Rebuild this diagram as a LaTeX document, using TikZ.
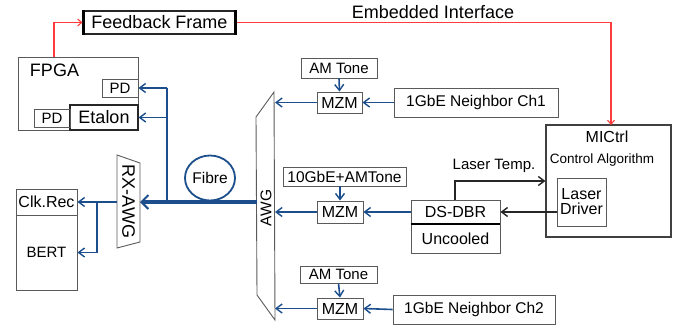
\documentclass[tikz,border=0pt]{standalone}
\usepackage{fontspec}
\setmainfont{Liberation Sans}
\usetikzlibrary{arrows.meta,calc,shapes.geometric}
\definecolor{fibreblue}{RGB}{28,78,140}
\definecolor{ctrlred}{RGB}{255,60,60}
\definecolor{boxgrey}{RGB}{90,90,90}
\newcommand{\fs}[1]{\fontsize{#1}{#1}\selectfont}
\tikzset{
  box/.style={draw=boxgrey, line width=0.9pt, inner sep=0pt, align=center, font=\fs{15}},
  darkbox/.style={box, draw=black!85, line width=1.1pt},
  bluearrow/.style={draw=fibreblue, line width=1.6pt, -{Straight Barb[length=6pt,width=9pt,line width=1.4pt]}},
  blueline/.style={draw=fibreblue, line width=1.6pt},
  blackarrow/.style={draw=black!85, line width=1.4pt, -{Straight Barb[length=6pt,width=9pt,line width=1.4pt]}},
  redarrow/.style={draw=ctrlred, line width=1.1pt, -{Straight Barb[length=4pt,width=7pt,line width=1.1pt]}},
  lbl/.style={inner sep=0pt, font=\fs{15}},
}
\begin{document}
\begin{tikzpicture}[x=1pt,y=-1pt]
\useasboundingbox (0,0) rectangle (682,330);

% ---- feedback frame and FPGA ----
\node[darkbox, minimum width=153pt, minimum height=23pt, font=\fs{18}] (ff) at (159.5,22.5) {Feedback Frame};
\draw[line width=2.6pt, black] ([xshift=1pt]ff.north west) -- ([xshift=1pt]ff.south west);
\draw[line width=2.6pt, black] ([xshift=-1pt]ff.north east) -- ([xshift=-1pt]ff.south east);
\node[lbl, font=\fs{18}] (eilbl) at (433,12.5) {Embedded Interface};

\node[box, minimum width=120pt, minimum height=73pt] (fpga) at (78,93.5) {};
\node[lbl, font=\fs{18}] (fpgalbl) at (54.5,70) {FPGA};
\node[box, minimum width=36pt, minimum height=18pt] (pd1) at (120,88) {PD};
\node[darkbox, minimum width=68pt, minimum height=25pt, font=\fs{18}] (etalon) at (104,117.5) {Etalon};
\node[box, minimum width=36pt, minimum height=18pt] (pd2) at (52,118) {PD};

% ---- receiver side ----
\node[draw=fibreblue, line width=1.8pt, ellipse, minimum width=50pt, minimum height=45pt, inner sep=0pt, font=\fs{15.5}] (fibre) at (210,178) {Fibre};

\draw[boxgrey, line width=0.9pt] (117,155) -- (140,163) -- (140,242) -- (117,248) -- cycle;
\node[lbl, rotate=-90, font=\fs{18}] (rxawg) at (128.5,201.5) {RX-AWG};
\coordinate (rxin) at (140,202);
\coordinate (rxout) at (117,202);

\node[box, minimum width=61pt, minimum height=26pt, font=\fs{16}] (clk) at (46.5,202) {Clk.Rec};
\node[box, minimum width=61pt, minimum height=75pt] (bert) at (46.5,252.5) {BERT};

% ---- transmitter AWG ----
\draw[boxgrey, line width=0.9pt] (256,117) -- (274,92) -- (275,320) -- (257,295) -- cycle;
\node[lbl, rotate=90, font=\fs{15.5}] (awg) at (266,208) {AWG};
\coordinate (awgout) at (257,202);
\coordinate (awg1) at (275,102.5);
\coordinate (awg2) at (275,212);
\coordinate (awg3) at (275,308.5);

% channel 1
\node[box, minimum width=76pt, minimum height=20pt] (amt1) at (339,68) {AM Tone};
\node[box, minimum width=45pt, minimum height=21pt, font=\fs{16}] (mzm1) at (339.5,102.5) {MZM};
\node[box, minimum width=164pt, minimum height=29pt, font=\fs{15.5}] (ch1) at (476,102.5) {1GbE Neighbor Ch1};

% channel 2
\node[box, minimum width=123pt, minimum height=19pt, font=\fs{15.5}] (amt2) at (344.5,176.5) {10GbE+AMTone};
\node[box, minimum width=46pt, minimum height=22pt, font=\fs{16}] (mzm2) at (340,212) {MZM};
\node[box, minimum width=89pt, minimum height=24pt, font=\fs{16}] (dsdbr) at (455.5,212) {DS-DBR};
\node[box, minimum width=89pt, minimum height=29pt, font=\fs{16}] (uncooled) at (455.5,238.5) {Uncooled};
\draw[black, line width=2pt] (dsdbr.south west) -- (dsdbr.south east);

% channel 3
\node[box, minimum width=77pt, minimum height=17pt] (amt3) at (338.5,274.5) {AM Tone};
\node[box, minimum width=46pt, minimum height=21pt, font=\fs{16}] (mzm3) at (340,308.5) {MZM};
\node[box, minimum width=162pt, minimum height=29pt, font=\fs{15.5}] (ch2) at (474,309.5) {1GbE Neighbor Ch2};

% ---- controller ----
\node[darkbox, draw=black!75, minimum width=125pt, minimum height=112pt] (mictrl) at (608.5,181) {};
\node[lbl, font=\fs{16}] (mictrllbl) at (607,137) {MICtrl};
\node[lbl, font=\fs{13.5}] (algolbl) at (602,160) {Control Algorithm};
\node[box, minimum width=49pt, minimum height=48pt, font=\fs{16}, text width=45pt, align=center] (ld) at (581.5,202) {Laser\\[-1pt]Driver};
\coordinate (mictop) at (611,125);
\coordinate (dstop) at (455,200);
\node[lbl] (templbl) at (494,166) {Laser Temp.};

% ---- red control links ----
\coordinate (fpgatop) at (54,57);
\draw[redarrow] (fpgatop) |- (ff.west);
\draw[redarrow] (ff.east) -| (mictop);

% ---- optical paths ----
\draw[draw=fibreblue, line width=3.6pt, -{Straight Barb[length=7pt,width=14pt,line width=2pt]}] (awgout) -- (rxin);
\coordinate (junc) at (167,202);
\draw[blueline] (junc) -- (167,88);
\draw[bluearrow] (167,88) -- (pd1.east);
\draw[bluearrow] (167,117.5) -- (etalon.east);

\coordinate (rxsplit) at (97,202);
\draw[bluearrow] (rxout) -- (clk.east);
\draw[bluearrow] (rxsplit) |- (bert.east);

\draw[bluearrow] (amt1.south) -- (mzm1.north);
\draw[bluearrow] (ch1.west) -- (mzm1.east);
\draw[bluearrow] (mzm1.west) -- (awg1);

\draw[bluearrow] (amt2.south -| mzm2.north) -- (mzm2.north);
\draw[bluearrow] (dsdbr.west) -- (mzm2.east);
\draw[bluearrow] (mzm2.west) -- (awg2);

\draw[bluearrow] (amt3.south) -- (mzm3.north);
\draw[bluearrow] (ch2.west) -- (mzm3.east);
\draw[bluearrow] (mzm3.west) -- (awg3);

% ---- electrical control ----
\draw[blackarrow] (ld.west |- dsdbr.east) -- (dsdbr.east);
\draw[blackarrow] (dstop) |- (mictrl.west |- 0,181);
\end{tikzpicture}
\end{document}
